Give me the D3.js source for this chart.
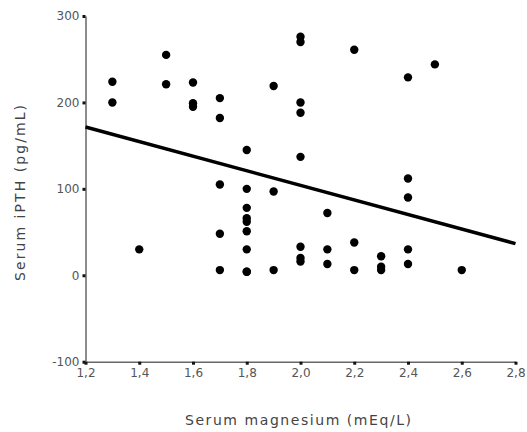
<!DOCTYPE html>
<html>
<head>
<meta charset="utf-8">
<script src="https://cdn.jsdelivr.net/npm/d3@7"></script>
<style>
  html, body { margin: 0; padding: 0; background: #fff; }
  svg { display: block; }
</style>
</head>
<body>
<svg id="chart" width="527" height="432"></svg>
<script>
// Data
const magnesium = [1.3,1.3, 1.4, 1.5,1.5, 1.6,1.6,1.6,
  1.7,1.7,1.7,1.7,1.7,
  1.8,1.8,1.8,1.8,1.8,1.8,1.8,1.8,1.8,
  1.9,1.9,1.9,
  2.0,2.0,2.0,2.0,2.0,2.0,2.0,2.0,
  2.1,2.1,2.1,
  2.2,2.2,2.2,
  2.3,2.3,2.3,
  2.4,2.4,2.4,2.4,2.4,
  2.5, 2.6];
const ipth = [224,200, 30, 255,221, 223,199,195,
  205,182,105,48,6,
  145,100,78,66,62,51,30,4,4,
  219,97,6,
  276,270,200,188,137,33,20,16,
  72,30,13,
  261,38,6,
  22,10,6,
  229,112,90,30,13,
  244, 6];
const fitX = [1.2, 2.8];
const fitY = [171.5, 36.6];
const xTicks = [1.2,1.4,1.6,1.8,2.0,2.2,2.4,2.6,2.8];
const yTicks = [-100,0,100,200,300];
const xTitle = "Serum magnesium (mEq/L)";
const yTitle = "Serum iPTH (pg/mL)";

const svg = d3.select("#chart");
const x = d3.scaleLinear().domain([1.2, 2.8]).range([85.5, 515.5]);
const y = d3.scaleLinear().domain([-100, 300]).range([361.7, 16]);
const font = "'DejaVu Sans', sans-serif";
const fmt = d => d.toFixed(1).replace('.', ',');

// X axis
const gx = svg.append("g").attr("transform", `translate(0,${y(-100)})`)
  .call(d3.axisBottom(x).tickValues(xTicks).tickFormat(fmt)
    .tickSizeInner(3).tickSizeOuter(0).tickPadding(4));
// Y axis
const gy = svg.append("g").attr("transform", `translate(${x(1.2)},0)`)
  .call(d3.axisLeft(y).tickValues(yTicks).tickFormat(d3.format("d"))
    .tickSizeInner(3).tickSizeOuter(0).tickPadding(3));

[gx, gy].forEach(g => {
  g.select(".domain").attr("stroke", "#666").attr("stroke-width", 1.5);
  g.selectAll(".tick line").attr("stroke", "#111").attr("stroke-width", 3);
  g.selectAll(".tick text").attr("fill", "#555")
    .style("font-family", font).style("font-size", "12px");
});
gy.selectAll(".tick text").text(d => d < 0 ? "-" + Math.abs(d) : d);

// Points
svg.append("g").selectAll("circle")
  .data(magnesium.map((m, i) => [m, ipth[i]]))
  .join("circle")
  .attr("cx", d => x(d[0]))
  .attr("cy", d => y(d[1]))
  .attr("r", 4.2)
  .attr("fill", "#000");

// Regression line
svg.append("path")
  .datum(fitX.map((v, i) => [v, fitY[i]]))
  .attr("d", d3.line().x(d => x(d[0])).y(d => y(d[1])))
  .attr("stroke", "#000").attr("stroke-width", 3.5).attr("fill", "none");

// Titles
svg.append("text")
  .attr("x", 298).attr("y", 425)
  .attr("text-anchor", "middle")
  .attr("fill", "#444")
  .style("font-family", font).style("font-size", "14px")
  .attr("textLength", 226).attr("lengthAdjust", "spacing")
  .text(xTitle);

svg.append("text")
  .attr("transform", "translate(25,193) rotate(-90)")
  .attr("text-anchor", "middle")
  .attr("fill", "#444")
  .style("font-family", font).style("font-size", "14px")
  .attr("textLength", 176).attr("lengthAdjust", "spacing")
  .text(yTitle);
</script>
</body>
</html>
